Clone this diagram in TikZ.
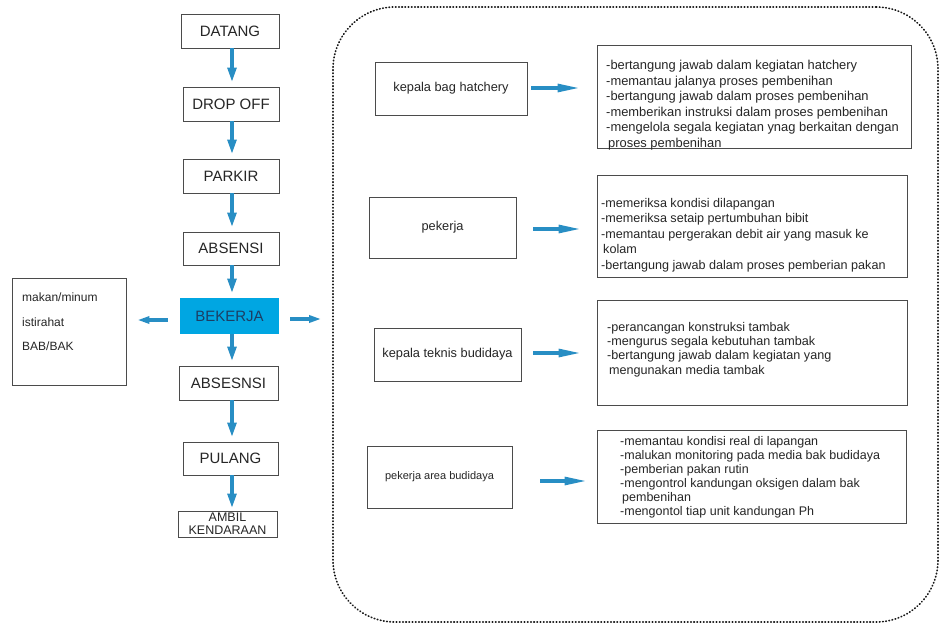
\documentclass[tikz,border=0pt]{standalone}
\usepackage{fontspec}
\setmainfont{Liberation Sans}
\usetikzlibrary{arrows.meta,calc}
\definecolor{flowblue}{RGB}{40,142,196}
\definecolor{workfill}{RGB}{0,166,226}
\definecolor{worktext}{RGB}{28,62,100}
\definecolor{edge}{RGB}{75,75,75}
\begin{document}
\begin{tikzpicture}[x=1pt,y=-1pt,
  stepbox/.style={draw=edge, line width=0.9pt, minimum width=96pt, minimum height=34pt,
    inner sep=0pt, text=black!85, font=\fontsize{15}{17}\selectfont},
  rolebox/.style={draw=edge, line width=0.9pt, inner sep=0pt, text=black!85,
    font=\fontsize{12.8}{15}\selectfont},
  descbox/.style={draw=edge, line width=0.9pt, inner sep=0pt},
  desctext/.style={anchor=north west, align=left, inner sep=0pt, text=black!85},
  flow/.style={draw=flowblue, line width=4.2pt, -{Triangle[length=15pt,width=8.5pt]}, shorten >=4pt},
  feed/.style={draw=flowblue, line width=4pt, -{Triangle[length=24pt,width=7.5pt]}},
  side/.style={draw=flowblue, line width=3.6pt, -{Triangle[length=12pt,width=7pt]}},
]
\useasboundingbox (0,0) rectangle (941,626);
\fill[white] (0,0) rectangle (941,626);

% ---- daily flow column ----
\node[stepbox, minimum width=98pt] (datang)  at (230,31)    {DATANG};
\node[stepbox]                     (dropoff) at (231,104)   {DROP OFF};
\node[stepbox]                     (parkir)  at (231,176)   {PARKIR};
\node[stepbox, minimum height=33pt] (absensi) at (231,248.5) {ABSENSI};
\node[stepbox, draw=none, fill=workfill, text=worktext, minimum width=99pt, minimum height=36pt]
                                   (bekerja) at (229.5,316) {BEKERJA};
\node[stepbox, minimum width=99pt] (absesnsi) at (228.5,383) {ABSESNSI};
\node[stepbox, minimum width=95pt, minimum height=33pt] (pulang) at (230.5,458.5) {PULANG};
\node[stepbox, minimum width=99pt, minimum height=26pt, align=center,
      font=\fontsize{12.5}{13}\selectfont] (ambil) at (227.5,524) {AMBIL\\KENDARAAN};

\draw[flow] ([xshift=2pt]datang.south)   -- ([xshift=1pt]dropoff.north);
\draw[flow] ([xshift=1pt]dropoff.south)  -- ([xshift=1pt]parkir.north);
\draw[flow] ([xshift=1pt]parkir.south)   -- ([xshift=1pt]absensi.north);
\draw[flow] ([xshift=1pt]absensi.south)  -- ([xshift=2.5pt]bekerja.north);
\draw[flow] ([xshift=2.5pt]bekerja.south) -- ([xshift=3.5pt]absesnsi.north);
\draw[flow] ([xshift=3.5pt]absesnsi.south) -- ([xshift=1.5pt]pulang.north);
\draw[flow, shorten >=2pt] ([xshift=1.5pt]pulang.south) -- ([xshift=4.5pt]ambil.north);

% ---- breaks during work ----
\node[descbox, minimum width=114pt, minimum height=107pt] (rest) at (69,331.5) {};
\node[desctext, font=\fontsize{12}{24.5}\selectfont] (resttext) at (22,293)
  {makan/minum\\istirahat\\BAB/BAK};
\draw[side] ([xshift=-12pt,yshift=-4pt]bekerja.west) -- ([xshift=11pt,yshift=-4pt]rest.east |- bekerja.west);

% ---- staff roles ----
\node[draw=black!90, line width=1.7pt, line cap=round, dash pattern=on 0.6pt off 2.6pt,
      rounded corners=62pt, minimum width=605pt, minimum height=615pt, inner sep=0pt]
      (group) at (635.5,314.5) {};
\draw[side] ([xshift=11pt,yshift=-3pt]bekerja.east) -- ([xshift=-11pt,yshift=-3pt]group.west |- bekerja.east);

\node[rolebox, minimum width=152pt, minimum height=53pt] (r1) at (451,88.5)   {kepala bag hatchery};
\node[rolebox, minimum width=147pt, minimum height=61pt] (r2) at (442.5,227.5) {pekerja};
\node[rolebox, minimum width=147pt, minimum height=53pt] (r3) at (447.5,354.5) {kepala teknis budidaya};
\node[rolebox, minimum width=145pt, minimum height=62pt, font=\fontsize{11}{13}\selectfont]
      (r4) at (439.5,477) {pekerja area budidaya};

\node[descbox, minimum width=314pt, minimum height=103pt] (d1) at (754,96.5)   {};
\node[descbox, minimum width=310pt, minimum height=102pt] (d2) at (752,226)    {};
\node[descbox, minimum width=310pt, minimum height=105pt] (d3) at (752,352.5)  {};
\node[descbox, minimum width=309pt, minimum height=93pt]  (d4) at (751.5,476.5) {};

\node[desctext, font=\fontsize{12.9}{15.6}\selectfont] (t1) at (606,60)
  {-bertangung jawab dalam kegiatan hatchery\\
   -memantau jalanya proses pembenihan\\
   -bertangung jawab dalam proses pembenihan\\
   -memberikan instruksi dalam proses pembenihan\\
   -mengelola segala kegiatan ynag berkaitan dengan\\
   \hspace*{2pt}proses pembenihan};
\node[desctext, font=\fontsize{12.6}{15.5}\selectfont] (t2) at (601,198)
  {-memeriksa kondisi dilapangan\\
   -memeriksa setaip pertumbuhan bibit\\
   -memantau pergerakan debit air yang masuk ke\\
   \hspace*{2pt}kolam\\
   -bertangung jawab dalam proses pemberian pakan};
\node[desctext, font=\fontsize{12.6}{14.3}\selectfont] (t3) at (607,322)
  {-perancangan konstruksi tambak\\
   -mengurus segala kebutuhan tambak\\
   -bertangung jawab dalam kegiatan yang\\
   \hspace*{2pt}mengunakan media tambak};
\node[desctext, font=\fontsize{12.5}{14}\selectfont] (t4) at (620,436)
  {-memantau kondisi real di lapangan\\
   -malukan monitoring pada media bak budidaya\\
   -pemberian pakan rutin\\
   -mengontrol kandungan oksigen dalam bak\\
   \hspace*{2pt}pembenihan\\
   -mengontol tiap unit kandungan Ph};

\draw[feed] ([xshift=4pt,yshift=0.5pt]r1.east)   -- ([xshift=-15pt,yshift=0.5pt]d1.west |- r1.east);
\draw[feed] ([xshift=17pt,yshift=-1.5pt]r2.east) -- ([xshift=-14pt,yshift=-1.5pt]d2.west |- r2.east);
\draw[feed] ([xshift=12pt,yshift=1.5pt]r3.east)  -- ([xshift=-14pt,yshift=1.5pt]d3.west |- r3.east);
\draw[feed] ([xshift=28pt,yshift=-4pt]r4.east)   -- ([xshift=-8pt,yshift=-4pt]d4.west |- r4.east);
\end{tikzpicture}
\end{document}
